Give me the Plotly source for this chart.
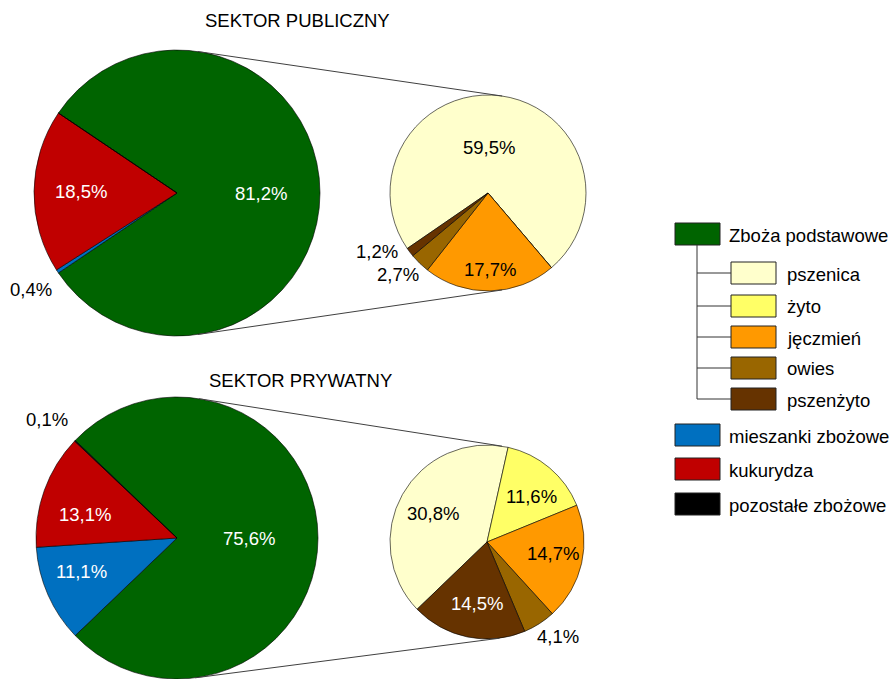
import math
import plotly.graph_objects as go

W, H = 892, 679

# ---------------- data ----------------
main_labels = ["Zboża podstawowe", "mieszanki zbożowe", "kukurydza", "pozostałe zbożowe"]
main_colors = ["#006400", "#0070C0", "#C00000", "#000000"]
sub_labels = ["pszenica", "żyto", "jęczmień", "owies", "pszenżyto"]
sub_colors = ["#FFFFCC", "#FFFF66", "#FF9900", "#996600", "#663300"]

pub_main = [81.2, 0.4, 18.5, 0.0]
pub_sub = [59.5, 0.0, 17.7, 2.7, 1.2]
prv_main = [75.6, 11.1, 13.1, 0.1]
prv_sub = [30.8, 11.6, 14.7, 4.1, 14.5]

titles = ["SEKTOR PUBLICZNY", "SEKTOR PRYWATNY"]

# ---------------- style ----------------
FONT = "Liberation Sans, Arial, sans-serif"
FS = 18.5

# label placement along slice bisector: radial factor, angular nudge (deg), colour
pub_main_lab = dict(rf=[0.587, 1.224, 0.671, 0], nudge=[0, 0, 0, 0],
                    col=["white", "black", "white", "black"])
pub_sub_lab = dict(rf=[0.46, 0, 0.776, 1.245, 1.284], nudge=[6, 0, 0.4, -3.6, -9.4],
                   col=["black", "black", "black", "black", "black"])
prv_main_lab = dict(rf=[0.51, 0.716, 0.674, 1.25], nudge=[0, -4.7, 5.2, 1.3],
                    col=["white", "white", "white", "black"])
prv_sub_lab = dict(rf=[0.63, 0.658, 0.686, 1.219, 0.641], nudge=[2, -4.6, 3.0, 4.2, 2.2],
                   col=["black", "black", "black", "black", "white"])

# circle geometry in pixels (cx, cy, r)
top_big = (177, 193, 143)
top_small = (488, 193, 98)
bot_big = (177, 538, 141)
bot_small = (487, 542, 97)

rot_top_small = -124.5
rot_bot_small = -133.9


def px(x):
    return x / W


def py(y):
    return 1 - y / H


def fmt(v):
    return ("%.1f" % v).replace(".", ",") + "%" if v > 0 else ""


def dom(c):
    cx, cy, r = c
    return dict(x=[max(0, px(cx - r)), min(1, px(cx + r))],
                y=[max(0, py(cy + r)), min(1, py(cy - r))])


def main_rotation(vals):
    return 90 - 180 * vals[0] / sum(vals)


annotations = []
shapes = []


def pie(vals, labels, colors, circle, rotation, lab):
    # slice labels placed on each slice's bisector
    total = float(sum(vals))
    start = 90 - rotation  # standard (ccw from +x) angle of first slice start
    cx, cy, r = circle
    acc = 0.0
    for i, v in enumerate(vals):
        mid = start - 360 * (acc + v / 2) / total
        acc += v
        t = fmt(v)
        if not t or lab["rf"][i] <= 0:
            continue
        a = math.radians(mid + lab["nudge"][i])
        rr = lab["rf"][i] * r
        annotations.append(dict(
            text=t, x=px(cx + rr * math.cos(a)), y=py(cy - rr * math.sin(a)),
            xref="paper", yref="paper", showarrow=False,
            xanchor="center", yanchor="middle",
            font=dict(family=FONT, size=FS, color=lab["col"][i])))
    return go.Pie(
        values=vals, labels=labels, textinfo="none",
        marker=dict(colors=colors, line=dict(color="#000000", width=0.6)),
        sort=False, direction="clockwise", rotation=rotation,
        domain=dom(circle), showlegend=False, hoverinfo="label+percent",
    )


fig = go.Figure()
fig.add_trace(pie(pub_main, main_labels, main_colors, top_big,
                  main_rotation(pub_main), pub_main_lab))
fig.add_trace(pie(pub_sub, sub_labels, sub_colors, top_small,
                  rot_top_small, pub_sub_lab))
fig.add_trace(pie(prv_main, main_labels, main_colors, bot_big,
                  main_rotation(prv_main), prv_main_lab))
fig.add_trace(pie(prv_sub, sub_labels, sub_colors, bot_small,
                  rot_bot_small, prv_sub_lab))


# connector lines: external tangents between big and small circle
def tangents(c1, c2):
    x1, y1, r1 = c1
    x2, y2, r2 = c2
    dx, dy = x2 - x1, y2 - y1
    D = math.hypot(dx, dy)
    base = math.atan2(dy, dx)
    phi = math.acos((r1 - r2) / D)
    for s in (-1, 1):
        a = base + s * phi
        nx, ny = math.cos(a), math.sin(a)
        shapes.append(dict(type="line", xref="paper", yref="paper",
                           x0=px(x1 + r1 * nx), y0=py(y1 + r1 * ny),
                           x1=px(x2 + r2 * nx), y1=py(y2 + r2 * ny),
                           line=dict(color="#404040", width=1)))


tangents(top_big, top_small)
tangents(bot_big, bot_small)

# titles
for t, (tx, ty) in zip(titles, [(297, 20), (300, 380)]):
    annotations.append(dict(text=t, x=px(tx), y=py(ty), xref="paper", yref="paper",
                            showarrow=False, xanchor="center", yanchor="middle",
                            font=dict(family=FONT, size=FS, color="black")))

# custom legend
SW, SH = 45, 22
main_x, sub_x = 675, 731
main_tops = [223, 424, 458, 493]
sub_tops = [262, 295, 326, 357, 388]
tree_x = 697


def swatch(x, y, color, label, textx):
    shapes.append(dict(type="rect", xref="paper", yref="paper",
                       x0=px(x), x1=px(x + SW), y0=py(y + SH), y1=py(y),
                       fillcolor=color, line=dict(color="#222222", width=1)))
    annotations.append(dict(text=label, x=px(textx), y=py(y + SH / 2 + 1),
                            xref="paper", yref="paper", showarrow=False,
                            xanchor="left", yanchor="middle",
                            font=dict(family=FONT, size=FS, color="black")))


for lab, col, top in zip(main_labels, main_colors, main_tops):
    swatch(main_x, top, col, lab, main_x + SW + 7)
for lab, col, top in zip(sub_labels, sub_colors, sub_tops):
    swatch(sub_x, top, col, lab, sub_x + SW + 9)
    cy = top + SH / 2
    shapes.append(dict(type="line", xref="paper", yref="paper",
                       x0=px(tree_x), x1=px(sub_x), y0=py(cy), y1=py(cy),
                       line=dict(color="#333333", width=1)))
shapes.append(dict(type="line", xref="paper", yref="paper",
                   x0=px(tree_x), x1=px(tree_x),
                   y0=py(main_tops[0] + SH), y1=py(sub_tops[-1] + SH / 2),
                   line=dict(color="#333333", width=1)))

fig.update_layout(
    width=W, height=H, margin=dict(l=0, r=0, t=0, b=0),
    paper_bgcolor="white", plot_bgcolor="white",
    shapes=shapes, annotations=annotations,
    font=dict(family=FONT, size=FS, color="black"),
)

fig.write_html(
    "out.html",
    config={"displayModeBar": False},
    post_script="document.body.style.margin='0';document.body.style.overflow='hidden';",
)
